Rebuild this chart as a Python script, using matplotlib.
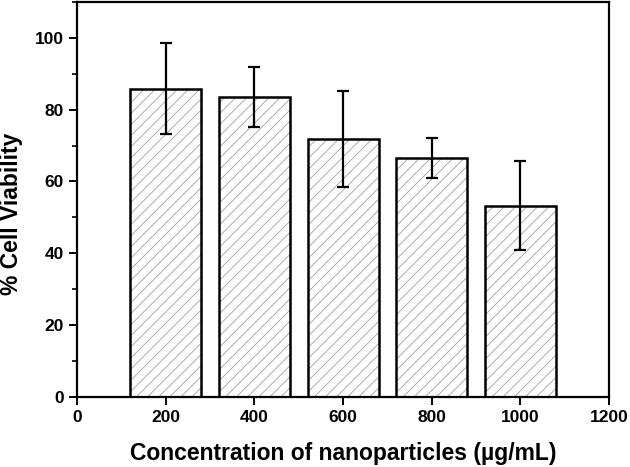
import numpy as np
import matplotlib
matplotlib.use('Agg')
import matplotlib.pyplot as plt
from matplotlib.ticker import MultipleLocator

# Data
concentrations = [200, 400, 600, 800, 1000]
viability      = [85.8, 83.5, 71.8, 66.5, 53.3]
errors         = [12.7, 8.4, 13.4, 5.6, 12.3]

plt.rcParams['font.family'] = ['Liberation Sans', 'DejaVu Sans']
plt.rcParams['font.weight'] = 'bold'
plt.rcParams['hatch.linewidth'] = 0.6

fig = plt.figure(figsize=(6.3, 4.67), dpi=100)
ax = fig.add_axes([0.122, 0.150, 0.845, 0.846])

# hatch layer (grey) then black outline on top
ax.bar(concentrations, viability, width=160, color='white', edgecolor='#a0a0a0',
       hatch='///', linewidth=0)
ax.bar(concentrations, viability, width=160, fill=False, edgecolor='black',
       linewidth=1.8)
ax.errorbar(concentrations, viability, yerr=errors, fmt='none', ecolor='black',
            elinewidth=1.6, capsize=4, capthick=1.6)

ax.set_xlim(0, 1200)
ax.set_ylim(0, 110)
ax.xaxis.set_major_locator(MultipleLocator(200))
ax.yaxis.set_minor_locator(MultipleLocator(10))
ax.set_yticks([0, 20, 40, 60, 80, 100])

for s in ax.spines.values():
    s.set_linewidth(1.6)
ax.tick_params(which='major', direction='out', length=6, width=1.4,
               labelsize=12.5, top=False, right=False)
ax.tick_params(which='minor', direction='out', length=3.5, width=1.2,
               top=False, right=False)
ax.tick_params(axis='x', which='minor', bottom=False)

ax.set_xlabel('Concentration of nanoparticles (µg/mL)', fontsize=16.5,
              fontweight='bold', labelpad=12)
ax.set_ylabel('% Cell Viability', fontsize=16.5, fontweight='bold')
ax.yaxis.set_label_coords(-0.101, 0.463)

fig.savefig('out.png', dpi=100)
